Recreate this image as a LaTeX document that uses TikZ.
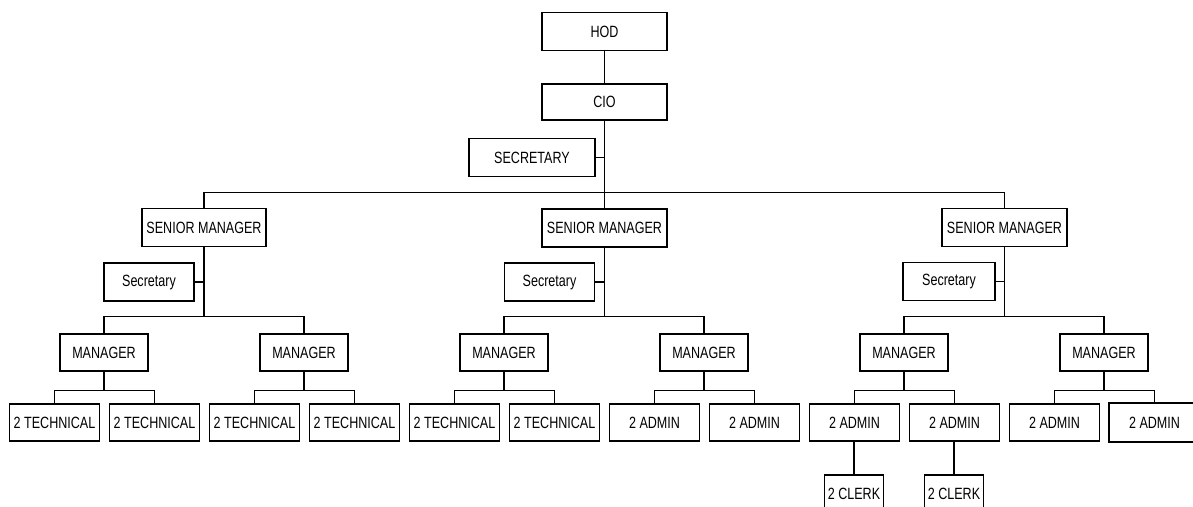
\documentclass[tikz,border=0pt]{standalone}
\usepackage{fontspec}
\setmainfont{Liberation Sans}[FakeStretch=0.77]
\begin{document}
\begin{tikzpicture}[x=1pt,y=-1pt,
  box/.style={draw,line width=1.9pt,rectangle,inner sep=0pt,font=\fontsize{16.3}{18}\selectfont,text=black},
  big/.style={box,minimum width=125pt,minimum height=38pt},
  sec/.style={box,minimum width=90pt,minimum height=38pt},
  mgr/.style={box,minimum width=88pt,minimum height=37pt},
  leaf/.style={box,minimum width=90pt,minimum height=37pt},
  clerk/.style={box,minimum width=59pt,minimum height=37pt},
  trunk/.style={line width=1.9pt},
  branch/.style={line width=1.4pt}]
\useasboundingbox (0,0) rectangle (1193,506);
\clip (0,0) rectangle (1193,506);
% top
\node[big] (hod) at (604.5,31.5) {HOD};
\node[big,minimum height=36pt] (cio) at (604.5,102) {CIO};
\node[big,minimum width=126pt] (secr) at (532,157.5) {SECRETARY};
\coordinate (b0) at (604.5,192.7);
\draw[branch] (hod) -- (cio);
\draw[trunk] (cio) -- (b0);
\draw[branch] (secr.east) -- (secr.east -| cio);
% senior managers
\node[big,minimum width=124pt] (sm1) at (204,227.5) {SENIOR MANAGER};
\node[big] (sm2) at (604.5,228) {SENIOR MANAGER};
\node[big] (sm3) at (1004.5,227.5) {SENIOR MANAGER};
\draw[branch] (sm1.north) |- (b0) -| (sm3.north);
\draw[branch] (b0) -- (sm2.north);
% secretaries
\node[sec] (s1) at (149,282) {Secretary};
\node[sec] (s2) at (549.5,282) {Secretary};
\node[sec,minimum width=92pt] (s3) at (949,281.5) {Secretary};
\coordinate (c1) at (204,316.7);
\coordinate (c2) at (604.5,316.7);
\coordinate (c3) at (1004.5,316.7);
\draw[trunk] (sm1) -- (c1);
\draw[trunk] (sm2) -- (c2);
\draw[trunk] (sm3) -- (c3);
\draw[branch] (s1.east) -- (s1.east -| sm1);
\draw[branch] (s2.east) -- (s2.east -| sm2);
\draw[branch] (s3.east) -- (s3.east -| sm3);
% managers
\node[mgr] (m1) at (104,352.5) {MANAGER};
\node[mgr] (m2) at (304,352.5) {MANAGER};
\node[mgr] (m3) at (504,352.5) {MANAGER};
\node[mgr] (m4) at (704,352.5) {MANAGER};
\node[mgr] (m5) at (904,352.5) {MANAGER};
\node[mgr] (m6) at (1104,352.5) {MANAGER};
\draw[branch] (m1.north) |- (c1) -| (m2.north);
\draw[branch] (m3.north) |- (c2) -| (m4.north);
\draw[branch] (m5.north) |- (c3) -| (m6.north);
% leaves
\node[leaf] (l1) at (54.5,422.5) {2 TECHNICAL};
\node[leaf] (l2) at (154.5,422.5) {2 TECHNICAL};
\node[leaf] (l3) at (254.5,422.5) {2 TECHNICAL};
\node[leaf] (l4) at (354.5,422.5) {2 TECHNICAL};
\node[leaf] (l5) at (454.5,422.5) {2 TECHNICAL};
\node[leaf] (l6) at (554.5,422.5) {2 TECHNICAL};
\node[leaf] (l7) at (654.5,422.5) {2 ADMIN};
\node[leaf] (l8) at (754.5,422.5) {2 ADMIN};
\node[leaf] (l9) at (854.5,422.5) {2 ADMIN};
\node[leaf] (l10) at (954.5,422.5) {2 ADMIN};
\node[leaf] (l11) at (1054.5,422.5) {2 ADMIN};
\node[leaf,draw=none] (l12) at (1154.5,422.5) {2 ADMIN};
\draw[line width=1.9pt] ([xshift=40pt]l12.north east) -- (l12.north west) -- (l12.south west) -- ([xshift=40pt]l12.south east);
\foreach \m in {m1,m2,m3,m4,m5,m6}{
  \coordinate (d\m) at ([yshift=-18.5pt]\m.south);
  \draw[branch] (\m.south) -- (d\m);
}
\draw[branch] (l1.north) |- (dm1) -| (l2.north);
\draw[branch] (l3.north) |- (dm2) -| (l4.north);
\draw[branch] (l5.north) |- (dm3) -| (l6.north);
\draw[branch] (l7.north) |- (dm4) -| (l8.north);
\draw[branch] (l9.north) |- (dm5) -| (l10.north);
\draw[branch] (l11.north) |- (dm6) -| (l12.north);
% clerks
\node[clerk,anchor=north] (k1) at (854,474) {2 CLERK};
\node[clerk,anchor=north] (k2) at (954,474) {2 CLERK};
\draw[branch] (l9.south -| k1) -- (k1.north);
\draw[branch] (l10.south -| k2) -- (k2.north);
\end{tikzpicture}
\end{document}
